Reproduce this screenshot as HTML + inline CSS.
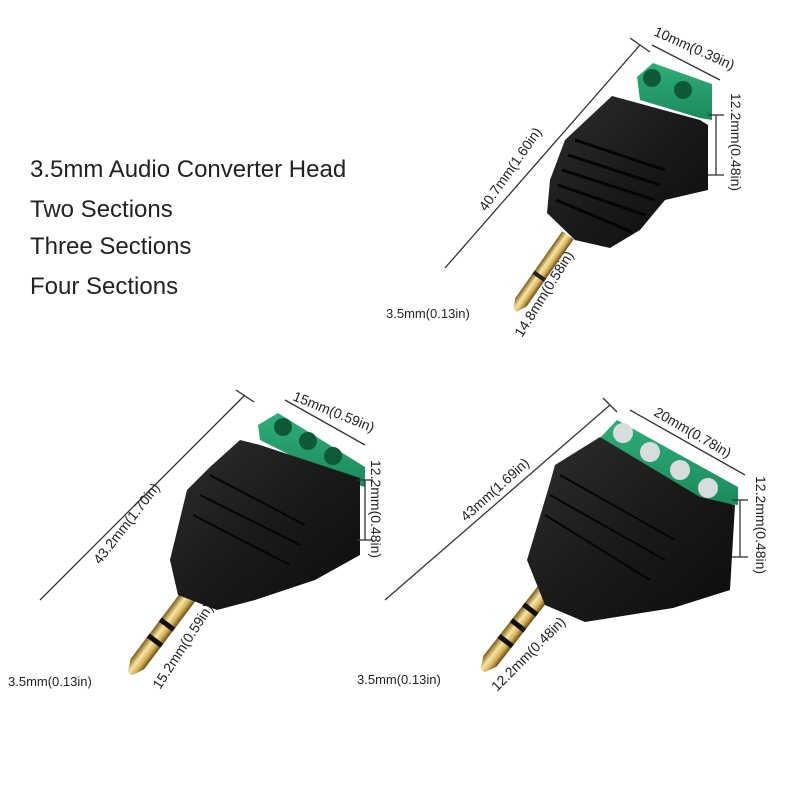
<!DOCTYPE html>
<html><head><meta charset="utf-8"><style>
html,body{margin:0;padding:0;background:#fff;}
svg{display:block;font-family:"Liberation Sans",sans-serif;}
</style></head><body>
<svg width="800" height="800" viewBox="0 0 800 800" xmlns="http://www.w3.org/2000/svg">
<defs>
<linearGradient id="gold" x1="0" x2="1" y1="0" y2="0">
<stop offset="0" stop-color="#7a5a16"/><stop offset="0.4" stop-color="#f7e6a4"/><stop offset="0.7" stop-color="#d6b25a"/><stop offset="1" stop-color="#6a4a10"/>
</linearGradient>
<linearGradient id="blk" x1="0" x2="1" y1="0" y2="1">
<stop offset="0" stop-color="#2e2e2e"/><stop offset="0.5" stop-color="#1a1a1a"/><stop offset="1" stop-color="#0c0c0c"/>
</linearGradient>
<linearGradient id="grn" x1="0" x2="0" y1="0" y2="1">
<stop offset="0" stop-color="#2fae78"/><stop offset="1" stop-color="#1a8a5a"/>
</linearGradient>
</defs>
<rect width="800" height="800" fill="#fff"/>

<g font-size="24" fill="#222">
<text x="30" y="177">3.5mm Audio Converter Head</text>
<text x="30" y="217">Two Sections</text>
<text x="30" y="254">Three Sections</text>
<text x="30" y="294">Four Sections</text>
</g>

<!-- Connector 1 -->
<g transform="rotate(35 545 268)"><rect x="538" y="228" width="14" height="82" fill="url(#gold)"/><rect x="538" y="276" width="14" height="4" fill="#222"/><polygon points="538,310 552,310 547,320 543,320" fill="url(#gold)"/></g>
<polygon points="637,77 653,63 712,84 712,120 700,118 640,100" fill="url(#grn)"/>
<circle cx="652" cy="78" r="9" fill="#0f5a36"/><circle cx="683" cy="90" r="9" fill="#0f5a36"/>
<polygon points="565,140 612,96 700,120 708,125 708,190 665,200 640,230 610,248 575,240 547,213 550,180" fill="url(#blk)"/>
<g stroke="#050505" stroke-width="3" fill="none">
<line x1="575" y1="140" x2="665" y2="170"/><line x1="568" y1="155" x2="660" y2="185"/><line x1="562" y1="170" x2="655" y2="200"/><line x1="558" y1="185" x2="645" y2="215"/><line x1="556" y1="200" x2="632" y2="232"/>
</g>

<!-- Connector 2 -->
<g transform="rotate(37 185 600)"><rect x="177" y="590" width="17" height="90" fill="url(#gold)"/><rect x="177" y="628" width="17" height="5" fill="#111"/><rect x="177" y="648" width="17" height="5" fill="#111"/><polygon points="177,680 194,680 188,692 183,692" fill="url(#gold)"/></g>
<polygon points="258,425 278,413 365,467 365,487 340,480 260,440" fill="url(#grn)"/>
<circle cx="283" cy="427" r="9" fill="#0f5a36"/><circle cx="308" cy="441" r="9" fill="#0f5a36"/><circle cx="333" cy="456" r="9" fill="#0f5a36"/>
<polygon points="187,490 210,467 240,440 260,445 360,478 360,555 315,580 255,600 217,610 178,595 170,560" fill="url(#blk)"/>
<g stroke="#050505" stroke-width="2" fill="none">
<line x1="210" y1="475" x2="305" y2="525"/><line x1="200" y1="495" x2="300" y2="545"/><line x1="193" y1="515" x2="290" y2="565"/>
</g>

<!-- Connector 3 -->
<g transform="rotate(38 545 590)"><rect x="537" y="585" width="17" height="95" fill="url(#gold)"/><rect x="537" y="612" width="17" height="5" fill="#111"/><rect x="537" y="632" width="17" height="5" fill="#111"/><rect x="537" y="652" width="17" height="5" fill="#111"/><polygon points="537,680 554,680 548,692 543,692" fill="url(#gold)"/></g>
<polygon points="600,438 617,420 738,487 738,505 700,500 605,450" fill="url(#grn)"/>
<polygon points="550,483 555,465 600,437 700,497 735,505 730,590 673,608 585,622 545,605 527,560" fill="url(#blk)"/>
<circle cx="623" cy="433" r="10" fill="#d8dcdc"/><circle cx="650" cy="452" r="10" fill="#d8dcdc"/><circle cx="680" cy="470" r="10" fill="#d8dcdc"/><circle cx="708" cy="488" r="10" fill="#d8dcdc"/>
<g stroke="#050505" stroke-width="2" fill="none">
<line x1="560" y1="475" x2="675" y2="540"/><line x1="550" y1="495" x2="665" y2="560"/><line x1="545" y1="515" x2="650" y2="580"/>
</g>

<!-- dimension lines -->
<g stroke="#333" stroke-width="1.3" fill="none">
<line x1="445" y1="268" x2="640" y2="45"/><line x1="630" y1="38" x2="650" y2="52"/>
<line x1="652" y1="45" x2="720" y2="80"/>
<line x1="716" y1="115" x2="716" y2="175"/><line x1="708" y1="115" x2="724" y2="115"/><line x1="708" y1="175" x2="724" y2="175"/>
<line x1="40" y1="600" x2="245" y2="395"/><line x1="236" y1="390" x2="254" y2="402"/>
<line x1="285" y1="400" x2="365" y2="445"/>
<line x1="365" y1="480" x2="365" y2="540"/><line x1="357" y1="480" x2="373" y2="480"/><line x1="357" y1="540" x2="373" y2="540"/>
<line x1="385" y1="600" x2="610" y2="405"/><line x1="603" y1="398" x2="617" y2="412"/>
<line x1="630" y1="410" x2="745" y2="475"/>
<line x1="740" y1="500" x2="740" y2="557"/><line x1="732" y1="500" x2="748" y2="500"/><line x1="732" y1="557" x2="748" y2="557"/>
</g>

<g font-size="14" fill="#222">
<text transform="translate(653,35) rotate(24)">10mm(0.39in)</text>
<text transform="translate(731,93) rotate(90)">12.2mm(0.48in)</text>
<text transform="translate(486,212) rotate(-55)">40.7mm(1.60in)</text>
<text x="386" y="318" font-size="13">3.5mm(0.13in)</text>
<text transform="translate(522,338) rotate(-58)">14.8mm(0.58in)</text>
<text transform="translate(292,400) rotate(22)">15mm(0.59in)</text>
<text transform="translate(371,460) rotate(90)">12.2mm(0.48in)</text>
<text transform="translate(100,565) rotate(-52)">43.2mm(1.70in)</text>
<text x="8" y="686" font-size="13">3.5mm(0.13in)</text>
<text transform="translate(160,690) rotate(-57)">15.2mm(0.59in)</text>
<text transform="translate(653,415) rotate(30)">20mm(0.78in)</text>
<text transform="translate(756,476) rotate(90)">12.2mm(0.48in)</text>
<text transform="translate(466,522) rotate(-42)">43mm(1.69in)</text>
<text x="357" y="684" font-size="13">3.5mm(0.13in)</text>
<text transform="translate(497,692) rotate(-45)">12.2mm(0.48in)</text>
</g>
</svg>
</body></html>
